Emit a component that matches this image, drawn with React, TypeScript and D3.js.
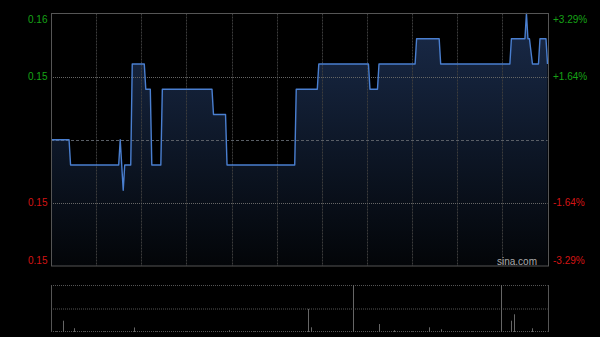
import React from "react";
import * as d3 from "d3";

// Price path vertices (minute index from 9:30, price)
const priceMinutes = [0, 12, 13, 45, 46, 48, 49, 53, 54, 62, 63, 66, 67, 73, 74, 107, 108, 116, 117, 162, 163, 177, 178, 211, 212, 217, 218, 242, 243, 258, 259, 305, 306, 315, 316, 317, 318, 320, 324, 325, 329, 330];
const priceValues = [0.152, 0.152, 0.151, 0.151, 0.152, 0.150, 0.151, 0.151, 0.155, 0.155, 0.154, 0.154, 0.151, 0.151, 0.154, 0.154, 0.153, 0.153, 0.151, 0.151, 0.154, 0.154, 0.155, 0.155, 0.154, 0.154, 0.155, 0.155, 0.156, 0.156, 0.155, 0.155, 0.156, 0.156, 0.157, 0.156, 0.156, 0.155, 0.155, 0.156, 0.156, 0.155];

const prevClose = 0.152;
const priceMin = 0.147;
const priceMax = 0.157;

const leftTickValues = [0.157, 0.1545, 0.1495, 0.147];
const leftTickLabels = ["0.16", "0.15", "0.15", "0.15"];
const rightTickLabels = ["+3.29%", "+1.64%", "-1.64%", "-3.29%"];
const tickIsUp = [true, true, false, false];

const volumeMinutes = [3, 8, 15, 22, 35, 55, 70, 90, 118, 135, 171, 173, 185, 201, 218, 228, 240, 251, 259, 280, 299, 306, 308, 320, 327];
const volumeValues = [8000, 125000, 42000, 6000, 6000, 50000, 6000, 6000, 20000, 6000, 255000, 52000, 6000, 520000, 88000, 20000, 6000, 52000, 30000, 6000, 520000, 125000, 196000, 41000, 8000];

const totalMinutes = 330;
const gridMinutes = [30, 60, 90, 120, 150, 180, 210, 240, 270, 300];

const W = 600;
const H = 337;
const L = 51;
const R = 547.5;
const T = 13.5;
const B = 266;
const VT = 285;
const VB = 332;

const GREEN = "#16a316";
const RED = "#d41414";
const FONT = "'Liberation Sans', Arial, sans-serif";

export default function App() {
  const x = d3.scaleLinear().domain([0, totalMinutes]).range([L, R]);
  const y = d3.scaleLinear().domain([priceMin, priceMax]).range([B, T]);
  const vy = d3.scaleLinear().domain([0, d3.max(volumeValues) as number]).range([VB, VT]);

  const pts = priceMinutes.map((m, i) => [m, priceValues[i]] as [number, number]);
  const line = d3.line<[number, number]>().x((d) => x(d[0])).y((d) => y(d[1]));
  const area = d3
    .area<[number, number]>()
    .x((d) => x(d[0]))
    .y0(B)
    .y1((d) => y(d[1]));

  const px = (v: number) => Math.round(v) + 0.5;

  const hLines = [0.1545, 0.1495];

  return (
    <svg
      width={W}
      height={H}
      style={{ position: "absolute", left: 0, top: 0, background: "#000" }}
      fontFamily={FONT}
    >
      <defs>
        <linearGradient id="fillGrad" x1="0" y1={T} x2="0" y2={B} gradientUnits="userSpaceOnUse">
          <stop offset="0" stopColor="#1a2b4a" />
          <stop offset="0.5" stopColor="#0e1829" />
          <stop offset="1" stopColor="#030508" />
        </linearGradient>
      </defs>
      <rect x={0} y={0} width={W} height={H} fill="#000" />

      {/* area fill */}
      <path d={area(pts) || ""} fill="url(#fillGrad)" />

      {/* vertical grid */}
      {gridMinutes.map((m) => (
        <line
          key={"vg" + m}
          x1={px(x(m))}
          x2={px(x(m))}
          y1={T}
          y2={B}
          stroke="#3c3c3c"
          strokeDasharray="2,1"
        />
      ))}
      {/* horizontal grid */}
      {hLines.map((v) => (
        <line
          key={"hg" + v}
          x1={L}
          x2={R}
          y1={px(y(v))}
          y2={px(y(v))}
          stroke="#666"
          strokeDasharray="1,1"
        />
      ))}
      <line
        x1={L}
        x2={R}
        y1={px(y(prevClose))}
        y2={px(y(prevClose))}
        stroke="#5a5f66"
        strokeDasharray="3,2"
      />

      {/* price line */}
      <path d={line(pts) || ""} fill="none" stroke="#4a7fd0" strokeWidth={1.4} strokeLinejoin="round" />

      {/* border */}
      <rect x={px(L)} y={T} width={Math.round(R) - Math.round(L)} height={B - T} fill="none" stroke="#555" />

      {/* left labels */}
      {leftTickValues.map((v, i) => {
        let yy = y(v);
        if (i === 0) yy = T + 5.5;
        if (i === leftTickValues.length - 1) yy = B - 6;
        return (
          <text
            key={"ll" + i}
            x={47.5}
            y={yy}
            textAnchor="end"
            dominantBaseline="central"
            fontSize={10}
            fill={tickIsUp[i] ? GREEN : RED}
          >
            {leftTickLabels[i]}
          </text>
        );
      })}
      {/* right labels */}
      {leftTickValues.map((v, i) => {
        let yy = y(v);
        if (i === 0) yy = T + 5.5;
        if (i === leftTickValues.length - 1) yy = B - 6;
        return (
          <text
            key={"rl" + i}
            x={553}
            y={yy}
            textAnchor="start"
            dominantBaseline="central"
            fontSize={10}
            fill={tickIsUp[i] ? GREEN : RED}
          >
            {rightTickLabels[i]}
          </text>
        );
      })}

      <text x={537} y={264.5} textAnchor="end" fontSize={10} fill="#aaa">
        sina.com
      </text>

      {/* volume panel */}
      <line x1={L} x2={R} y1={VT + 0.5} y2={VT + 0.5} stroke="#555" strokeDasharray="1,1" />
      <line x1={L} x2={R} y1={(VT + VB) / 2 + 0.5} y2={(VT + VB) / 2 + 0.5} stroke="#555" strokeDasharray="1,1" />
      <line x1={L} x2={R} y1={VB - 0.5} y2={VB - 0.5} stroke="#555" strokeDasharray="1,1" />
      <line x1={px(L)} x2={px(L)} y1={VT} y2={VB} stroke="#555" />
      <line x1={px(R)} x2={px(R)} y1={VT} y2={VB} stroke="#555" />
      {volumeMinutes.map((m, i) => (
        <line
          key={"v" + i}
          x1={px(x(m))}
          x2={px(x(m))}
          y1={vy(volumeValues[i])}
          y2={VB}
          stroke="#666"
        />
      ))}
    </svg>
  );
}
